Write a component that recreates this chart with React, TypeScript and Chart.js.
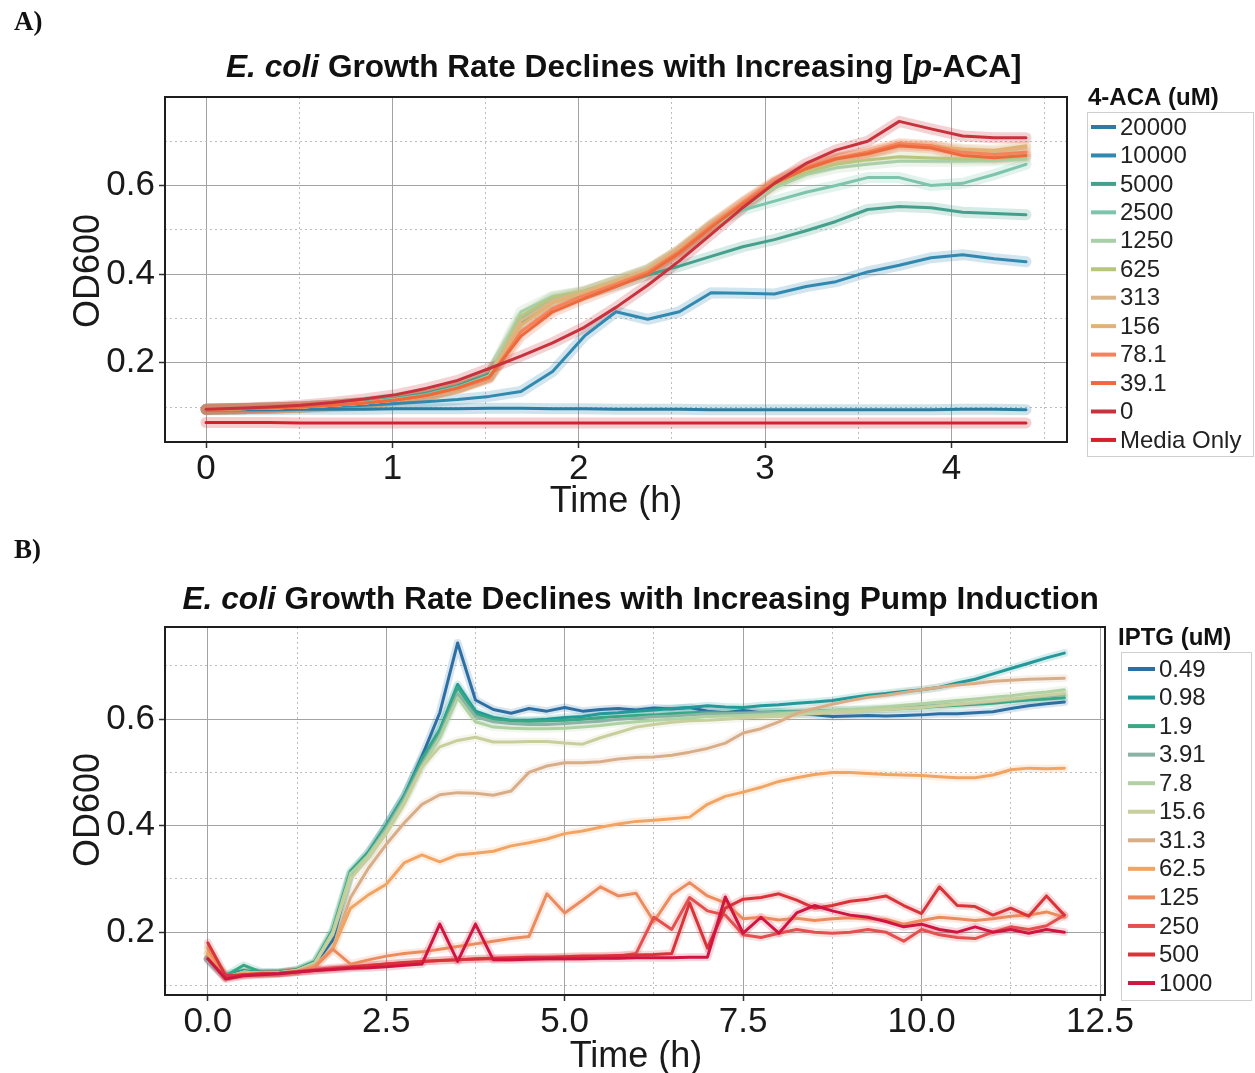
import React, { useEffect, useRef } from 'react';
import { Chart, registerables } from 'chart.js';

Chart.register(...registerables);

const FONT = '"Liberation Sans", Arial, Helvetica, sans-serif';

// ---------------- Panel A data ----------------
const timesA = [0, 0.17, 0.34, 0.51, 0.68, 0.85, 1.02, 1.18, 1.35, 1.52, 1.69, 1.86, 2.03, 2.2, 2.37, 2.54, 2.71, 2.88, 3.05, 3.22, 3.38, 3.55, 3.72, 3.89, 4.06, 4.23, 4.4];
const labelsA = ['20000', '10000', '5000', '2500', '1250', '625', '313', '156', '78.1', '39.1', '0', 'Media Only'];
const colorsA = ['#2b7ea1', '#3189b0', '#44a08c', '#7dc4ac', '#a8cfa9', '#b7c57f', '#dab58a', '#e1b274', '#f5825a', '#ec6a3c', '#c8323c', '#d6202b'];
const a20000 = [0.094, 0.094, 0.094, 0.095, 0.095, 0.095, 0.096, 0.096, 0.096, 0.097, 0.097, 0.096, 0.096, 0.095, 0.095, 0.095, 0.094, 0.094, 0.094, 0.094, 0.094, 0.094, 0.094, 0.094, 0.095, 0.095, 0.094];
const a10000 = [0.095, 0.096, 0.097, 0.099, 0.101, 0.104, 0.108, 0.112, 0.117, 0.124, 0.135, 0.18, 0.26, 0.315, 0.298, 0.315, 0.358, 0.357, 0.355, 0.372, 0.383, 0.405, 0.42, 0.437, 0.444, 0.435, 0.428];
const a5000 = [0.095, 0.096, 0.098, 0.101, 0.105, 0.111, 0.12, 0.131, 0.148, 0.175, 0.29, 0.34, 0.355, 0.375, 0.398, 0.418, 0.44, 0.462, 0.478, 0.498, 0.519, 0.546, 0.553, 0.55, 0.54, 0.537, 0.534];
const a2500 = [0.095, 0.096, 0.098, 0.1, 0.104, 0.11, 0.118, 0.128, 0.145, 0.17, 0.3, 0.345, 0.36, 0.385, 0.41, 0.45, 0.51, 0.545, 0.565, 0.585, 0.6, 0.618, 0.618, 0.6, 0.605, 0.625, 0.648];
const a1250 = [0.095, 0.096, 0.098, 0.1, 0.104, 0.109, 0.116, 0.126, 0.143, 0.17, 0.315, 0.35, 0.36, 0.382, 0.408, 0.452, 0.505, 0.55, 0.595, 0.625, 0.64, 0.648, 0.655, 0.655, 0.655, 0.656, 0.66];
const a625 = [0.095, 0.096, 0.098, 0.1, 0.104, 0.109, 0.116, 0.125, 0.142, 0.168, 0.305, 0.348, 0.362, 0.385, 0.41, 0.455, 0.508, 0.555, 0.6, 0.63, 0.648, 0.658, 0.665, 0.662, 0.66, 0.66, 0.665];
const a313 = [0.095, 0.096, 0.098, 0.1, 0.104, 0.109, 0.116, 0.125, 0.142, 0.167, 0.295, 0.34, 0.36, 0.385, 0.41, 0.455, 0.51, 0.56, 0.605, 0.638, 0.658, 0.672, 0.688, 0.688, 0.68, 0.676, 0.685];
const a156 = [0.095, 0.096, 0.098, 0.1, 0.104, 0.109, 0.116, 0.125, 0.142, 0.166, 0.285, 0.335, 0.358, 0.383, 0.408, 0.455, 0.512, 0.562, 0.608, 0.64, 0.66, 0.675, 0.692, 0.69, 0.682, 0.68, 0.69];
const a78 = [0.095, 0.096, 0.098, 0.1, 0.104, 0.109, 0.116, 0.125, 0.142, 0.165, 0.27, 0.322, 0.352, 0.378, 0.405, 0.452, 0.51, 0.562, 0.61, 0.642, 0.662, 0.676, 0.695, 0.69, 0.675, 0.67, 0.675];
const a39 = [0.095, 0.096, 0.098, 0.1, 0.104, 0.109, 0.116, 0.126, 0.143, 0.168, 0.26, 0.315, 0.345, 0.372, 0.4, 0.448, 0.505, 0.558, 0.605, 0.638, 0.66, 0.672, 0.69, 0.685, 0.668, 0.663, 0.668];
const a0 = [0.095, 0.097, 0.1, 0.104, 0.11, 0.118, 0.128, 0.142, 0.16, 0.187, 0.215, 0.245, 0.28, 0.325, 0.375, 0.43, 0.49, 0.55, 0.605, 0.65, 0.68, 0.7, 0.745, 0.728, 0.712, 0.708, 0.708];
const aMedia = [0.065, 0.065, 0.065, 0.064, 0.064, 0.064, 0.064, 0.064, 0.064, 0.064, 0.064, 0.064, 0.064, 0.064, 0.064, 0.064, 0.064, 0.064, 0.064, 0.064, 0.064, 0.064, 0.064, 0.064, 0.064, 0.064, 0.064];
const seriesA = [a20000, a10000, a5000, a2500, a1250, a625, a313, a156, a78, a39, a0, aMedia];
const xTicksA = [0, 0.5, 1, 1.5, 2, 2.5, 3, 3.5, 4, 4.5];
const xMajorA = [0, 1, 2, 3, 4];
const yTicksA = [0.1, 0.2, 0.3, 0.4, 0.5, 0.6, 0.7];
const yMajor = [0.2, 0.4, 0.6];

// ---------------- Panel B data ----------------
const timesB = [0, 0.25, 0.5, 0.75, 1, 1.25, 1.5, 1.75, 2, 2.25, 2.5, 2.75, 3, 3.25, 3.5, 3.75, 4, 4.25, 4.5, 4.75, 5, 5.25, 5.5, 5.75, 6, 6.25, 6.5, 6.75, 7, 7.25, 7.5, 7.75, 8, 8.25, 8.5, 8.75, 9, 9.25, 9.5, 9.75, 10, 10.25, 10.5, 10.75, 11, 11.25, 11.5, 11.75, 12];
const labelsB = ['0.49', '0.98', '1.9', '3.91', '7.8', '15.6', '31.3', '62.5', '125', '250', '500', '1000'];
const colorsB = ['#2d6fa3', '#23999a', '#36a884', '#8bb3a5', '#b0d2a2', '#c9cf9c', '#d8ae88', '#f2a462', '#ec8c5e', '#e4504f', '#d9343a', '#d01640'];
const b049 = [0.15, 0.115, 0.125, 0.124, 0.124, 0.128, 0.14, 0.185, 0.31, 0.35, 0.4, 0.455, 0.53, 0.612, 0.743, 0.636, 0.618, 0.611, 0.62, 0.615, 0.622, 0.615, 0.618, 0.62, 0.617, 0.621, 0.619, 0.622, 0.615, 0.612, 0.616, 0.612, 0.613, 0.61, 0.608, 0.605, 0.606, 0.607, 0.606, 0.607, 0.608, 0.61, 0.61, 0.612, 0.614, 0.62, 0.625, 0.629, 0.632];
const b098 = [0.15, 0.12, 0.128, 0.124, 0.124, 0.128, 0.142, 0.2, 0.31, 0.345, 0.4, 0.455, 0.525, 0.58, 0.665, 0.615, 0.603, 0.598, 0.598, 0.6, 0.603, 0.605, 0.61, 0.612, 0.615, 0.617, 0.62, 0.622, 0.625, 0.623, 0.622, 0.625, 0.627, 0.63, 0.632, 0.635, 0.64, 0.645, 0.648, 0.652, 0.655, 0.66, 0.668, 0.675, 0.685, 0.695, 0.705, 0.715, 0.724];
const b19 = [0.15, 0.118, 0.138, 0.125, 0.125, 0.13, 0.145, 0.205, 0.315, 0.35, 0.4, 0.455, 0.525, 0.578, 0.66, 0.61, 0.6, 0.597, 0.596, 0.597, 0.598, 0.6, 0.603, 0.605, 0.607, 0.608, 0.61, 0.612, 0.613, 0.612, 0.612, 0.613, 0.614, 0.615, 0.615, 0.616, 0.617, 0.618, 0.619, 0.62, 0.622, 0.624, 0.626, 0.628, 0.63, 0.633, 0.636, 0.638, 0.64];
const b391 = [0.145, 0.115, 0.125, 0.123, 0.124, 0.128, 0.142, 0.2, 0.305, 0.345, 0.395, 0.45, 0.515, 0.57, 0.648, 0.605, 0.595, 0.592, 0.59, 0.59, 0.592, 0.594, 0.596, 0.6, 0.602, 0.605, 0.606, 0.608, 0.61, 0.61, 0.611, 0.612, 0.613, 0.614, 0.615, 0.616, 0.617, 0.618, 0.62, 0.622, 0.624, 0.626, 0.628, 0.63, 0.633, 0.636, 0.64, 0.643, 0.646];
const b78 = [0.16, 0.115, 0.125, 0.123, 0.124, 0.128, 0.142, 0.2, 0.31, 0.345, 0.39, 0.445, 0.51, 0.565, 0.64, 0.595, 0.585, 0.583, 0.582, 0.582, 0.583, 0.585, 0.588, 0.592, 0.595, 0.598, 0.6, 0.602, 0.605, 0.606, 0.607, 0.608, 0.61, 0.612, 0.614, 0.616, 0.618, 0.62, 0.623, 0.626, 0.629, 0.632, 0.635, 0.638, 0.641, 0.644, 0.648, 0.651, 0.655];
const b156 = [0.17, 0.115, 0.125, 0.123, 0.124, 0.128, 0.142, 0.195, 0.3, 0.34, 0.385, 0.44, 0.51, 0.548, 0.56, 0.566, 0.557, 0.557, 0.558, 0.558, 0.555, 0.553, 0.565, 0.575, 0.585, 0.59, 0.594, 0.597, 0.598, 0.6, 0.602, 0.604, 0.605, 0.608, 0.61, 0.612, 0.614, 0.616, 0.618, 0.62, 0.622, 0.625, 0.628, 0.631, 0.634, 0.638, 0.641, 0.645, 0.648];
const b313 = [0.16, 0.115, 0.124, 0.123, 0.124, 0.127, 0.138, 0.17, 0.265, 0.32, 0.365, 0.405, 0.44, 0.458, 0.462, 0.461, 0.457, 0.465, 0.5, 0.512, 0.518, 0.518, 0.52, 0.525, 0.528, 0.529, 0.532, 0.538, 0.545, 0.555, 0.574, 0.582, 0.595, 0.611, 0.62, 0.628, 0.635, 0.641, 0.645, 0.65, 0.655, 0.66, 0.664, 0.667, 0.671, 0.673, 0.675, 0.676, 0.677];
const b625 = [0.16, 0.115, 0.123, 0.122, 0.123, 0.126, 0.135, 0.168, 0.245, 0.27, 0.29, 0.33, 0.345, 0.332, 0.345, 0.348, 0.352, 0.362, 0.368, 0.375, 0.385, 0.39, 0.397, 0.403, 0.408, 0.41, 0.413, 0.416, 0.44, 0.455, 0.463, 0.472, 0.483, 0.49, 0.496, 0.5, 0.5, 0.498, 0.496, 0.495, 0.494, 0.492, 0.49, 0.49, 0.495, 0.505, 0.508, 0.507, 0.508];
const b125 = [0.17, 0.115, 0.12, 0.122, 0.123, 0.126, 0.135, 0.168, 0.14, 0.148, 0.155, 0.16, 0.163, 0.168, 0.173, 0.178, 0.183, 0.188, 0.192, 0.272, 0.236, 0.26, 0.285, 0.268, 0.273, 0.22, 0.27, 0.293, 0.268, 0.255, 0.225, 0.228, 0.223, 0.226, 0.222, 0.225, 0.227, 0.225, 0.224, 0.215, 0.222, 0.228, 0.225, 0.222, 0.225, 0.23, 0.232, 0.238, 0.228];
const b250 = [0.15, 0.115, 0.12, 0.122, 0.123, 0.126, 0.13, 0.133, 0.135, 0.138, 0.14, 0.142, 0.145, 0.147, 0.148, 0.149, 0.15, 0.151, 0.152, 0.152, 0.153, 0.153, 0.154, 0.155, 0.16, 0.228, 0.205, 0.265, 0.24, 0.232, 0.195, 0.19, 0.198, 0.205, 0.2, 0.198, 0.2, 0.205, 0.2, 0.183, 0.205, 0.195, 0.19, 0.188, 0.2, 0.21, 0.205, 0.212, 0.232];
const b500 = [0.18, 0.118, 0.12, 0.122, 0.123, 0.125, 0.128, 0.131, 0.134, 0.137, 0.14, 0.143, 0.145, 0.147, 0.148, 0.15, 0.151, 0.152, 0.153, 0.153, 0.154, 0.155, 0.155, 0.156, 0.157, 0.158, 0.16, 0.255, 0.17, 0.245, 0.262, 0.265, 0.272, 0.26, 0.245, 0.25, 0.258, 0.262, 0.268, 0.25, 0.235, 0.285, 0.25, 0.248, 0.232, 0.245, 0.23, 0.268, 0.232];
const b1000 = [0.15, 0.112, 0.118, 0.12, 0.122, 0.125, 0.128, 0.13, 0.132, 0.133, 0.135, 0.138, 0.14, 0.215, 0.145, 0.215, 0.148, 0.148, 0.149, 0.15, 0.15, 0.15, 0.151, 0.151, 0.152, 0.152, 0.152, 0.153, 0.153, 0.266, 0.198, 0.228, 0.198, 0.236, 0.25, 0.24, 0.232, 0.228, 0.22, 0.21, 0.215, 0.205, 0.2, 0.21, 0.2, 0.205, 0.198, 0.205, 0.2];
const seriesB = [b049, b098, b19, b391, b78, b156, b313, b625, b125, b250, b500, b1000];
const xTicksB = [0, 1.25, 2.5, 3.75, 5, 6.25, 7.5, 8.75, 10, 11.25, 12.5];
const xMajorB = [0, 2.5, 5, 7.5, 10, 12.5];
const yTicksB = [0.1, 0.2, 0.3, 0.4, 0.5, 0.6, 0.7];

function rgba(hex: string, a: number) {
  const n = parseInt(hex.slice(1), 16);
  return `rgba(${(n >> 16) & 255},${(n >> 8) & 255},${n & 255},${a})`;
}

function buildDatasets(times: number[], series: number[][], colors: string[], lw: number, haloW: number, haloA: number) {
  const ds: any[] = [];
  series.forEach((vals, i) => {
    const data = vals.map((v, k) => ({ x: times[k], y: v }));
    ds.push({
      data, borderColor: rgba(colors[i], haloA), borderWidth: haloW, pointRadius: 0,
      order: 200 - i, borderJoinStyle: 'round', borderCapStyle: 'round', tension: 0,
    });
    ds.push({
      data, borderColor: colors[i], borderWidth: lw, pointRadius: 0,
      order: 100 - i, borderJoinStyle: 'round', borderCapStyle: 'round', tension: 0,
    });
  });
  return ds;
}

function near(list: number[], v: number) {
  return list.some((m) => Math.abs(m - v) < 1e-6);
}

type Deco = {
  panel: string; panelY: number;
  titleParts: [string, boolean][]; titleCx: number; titleY: number; titleW: number;
  yTitleX: number; yTitleY: number; xTitleX: number; xTitleY: number;
  legTitle: string; legTitleX: number; legTitleY: number;
  legBox: [number, number, number, number];
  legLineX0: number; legLineX1: number; legTextX: number; legY0: number; legDy: number;
  labels: string[]; colors: string[];
};

function makeDecor(d: Deco) {
  return {
    id: 'decor',
    beforeDraw(chart: any) {
      const ctx = chart.ctx;
      ctx.save();
      ctx.fillStyle = '#ffffff';
      ctx.fillRect(0, 0, chart.width, chart.height);
      ctx.restore();
    },
    afterDraw(chart: any) {
      const ctx = chart.ctx as CanvasRenderingContext2D;
      const ca = chart.chartArea;
      ctx.save();
      // frame
      ctx.strokeStyle = '#1e1e1e';
      ctx.lineWidth = 2;
      ctx.strokeRect(ca.left, ca.top, ca.right - ca.left, ca.bottom - ca.top);
      // panel label
      ctx.fillStyle = '#111';
      ctx.textBaseline = 'middle';
      ctx.textAlign = 'left';
      ctx.font = 'bold 27px "Liberation Serif", "Times New Roman", serif';
      ctx.fillText(d.panel, 14, d.panelY);
      // title with mixed italic
      const fontFor = (it: boolean, s: number) => `${it ? 'italic ' : ''}bold ${s}px ${FONT}`;
      let w100 = 0;
      d.titleParts.forEach(([t, it]) => { ctx.font = fontFor(it, 100); w100 += ctx.measureText(t).width; });
      const size = (100 * d.titleW) / w100;
      let x = d.titleCx - d.titleW / 2;
      ctx.fillStyle = '#111';
      d.titleParts.forEach(([t, it]) => {
        ctx.font = fontFor(it, size);
        ctx.fillText(t, x, d.titleY);
        x += ctx.measureText(t).width;
      });
      // axis titles
      ctx.font = `36px ${FONT}`;
      ctx.fillStyle = '#1a1a1a';
      ctx.textAlign = 'center';
      ctx.fillText('Time (h)', d.xTitleX, d.xTitleY);
      ctx.save();
      ctx.translate(d.yTitleX, d.yTitleY);
      ctx.rotate(-Math.PI / 2);
      ctx.fillText('OD600', 0, 0);
      ctx.restore();
      // legend
      ctx.textAlign = 'left';
      ctx.font = `bold 24px ${FONT}`;
      ctx.fillStyle = '#111';
      ctx.fillText(d.legTitle, d.legTitleX, d.legTitleY);
      const [bx, by, bw, bh] = d.legBox;
      ctx.strokeStyle = '#cfcfcf';
      ctx.lineWidth = 1;
      ctx.strokeRect(bx + 0.5, by + 0.5, bw, bh);
      ctx.font = `24px ${FONT}`;
      d.labels.forEach((lab, i) => {
        const y = d.legY0 + i * d.legDy;
        ctx.strokeStyle = d.colors[i];
        ctx.lineWidth = 4;
        ctx.beginPath();
        ctx.moveTo(d.legLineX0, y);
        ctx.lineTo(d.legLineX1, y);
        ctx.stroke();
        ctx.fillStyle = '#222';
        ctx.fillText(lab, d.legTextX, y + 1);
      });
      ctx.restore();
    },
  };
}

type ScaleP = {
  xMin: number; xMax: number; yMin: number; yMax: number;
  xTicks: number[]; xMajor: number[]; yTicks: number[]; yMajor: number[];
  xFmt: (v: number) => string; xH: number; yW: number;
};

function makeScales(p: ScaleP) {
  const gridColor = (major: boolean) => (major ? '#a3a3a3' : '#bdbdbd');
  const tickFont = { family: FONT, size: 35 };
  return {
    x: {
      type: 'linear', min: p.xMin, max: p.xMax,
      afterBuildTicks: (ax: any) => { ax.ticks = p.xTicks.map((v) => ({ value: v })); },
      afterFit: (s: any) => { s.height = p.xH; },
      ticks: {
        autoSkip: false, maxRotation: 0, minRotation: 0, padding: 0, font: tickFont, color: '#1a1a1a',
        callback: (v: any) => (near(p.xMajor, Number(v)) ? p.xFmt(Number(v)) : ''),
      },
      grid: {
        lineWidth: 1, tickLength: 6, tickWidth: 1.5,
        color: (c: any) => gridColor(!!c.tick && near(p.xMajor, c.tick.value)),
        tickColor: (c: any) => (c.tick && near(p.xMajor, c.tick.value) ? '#333' : 'rgba(0,0,0,0)'),
      },
      border: { display: false, dash: (c: any) => (c.tick && !near(p.xMajor, c.tick.value) ? [2, 3] : []) },
    },
    y: {
      type: 'linear', min: p.yMin, max: p.yMax,
      afterBuildTicks: (ax: any) => { ax.ticks = p.yTicks.map((v) => ({ value: v })); },
      afterFit: (s: any) => { s.width = p.yW; },
      ticks: {
        autoSkip: false, padding: 4, font: tickFont, color: '#1a1a1a',
        callback: (v: any) => (near(p.yMajor, Number(v)) ? Number(v).toFixed(1) : ''),
      },
      grid: {
        lineWidth: 1, tickLength: 6, tickWidth: 1.5,
        color: (c: any) => gridColor(!!c.tick && near(p.yMajor, c.tick.value)),
        tickColor: (c: any) => (c.tick && near(p.yMajor, c.tick.value) ? '#333' : 'rgba(0,0,0,0)'),
      },
      border: { display: false, dash: (c: any) => (c.tick && !near(p.yMajor, c.tick.value) ? [2, 3] : []) },
    },
  };
}

function configA(): any {
  return {
    type: 'line',
    data: { datasets: buildDatasets(timesA, seriesA, colorsA, 3, 11, 0.22) },
    options: {
      animation: false, responsive: false,
      layout: { padding: { left: 0, top: 97, right: 188, bottom: 0 } },
      plugins: { legend: { display: false }, tooltip: { enabled: false }, title: { display: false } },
      scales: makeScales({
        xMin: -0.22, xMax: 4.62, yMin: 0.021, yMax: 0.8,
        xTicks: xTicksA, xMajor: xMajorA, yTicks: yTicksA, yMajor: yMajor,
        xFmt: (v) => String(v), xH: 88, yW: 165,
      }),
    },
    plugins: [makeDecor({
      panel: 'A)', panelY: 23,
      titleParts: [['E. coli', true], [' Growth Rate Declines with Increasing [', false], ['p', true], ['-ACA]', false]],
      titleCx: 624, titleY: 68, titleW: 796,
      yTitleX: 89, yTitleY: 271, xTitleX: 616, xTitleY: 502,
      legTitle: '4-ACA (uM)', legTitleX: 1088, legTitleY: 98,
      legBox: [1087, 112, 166, 344],
      legLineX0: 1091, legLineX1: 1116, legTextX: 1120, legY0: 127, legDy: 28.45,
      labels: labelsA, colors: colorsA,
    })],
  };
}

function configB(): any {
  return {
    type: 'line',
    data: { datasets: buildDatasets(timesB, seriesB, colorsB, 3, 8, 0.18) },
    options: {
      animation: false, responsive: false,
      layout: { padding: { left: 0, top: 97, right: 150, bottom: 0 } },
      plugins: { legend: { display: false }, tooltip: { enabled: false }, title: { display: false } },
      scales: makeScales({
        xMin: -0.6, xMax: 12.57, yMin: 0.082, yMax: 0.773,
        xTicks: xTicksB, xMajor: xMajorB, yTicks: yTicksB, yMajor: yMajor,
        xFmt: (v) => v.toFixed(1), xH: 78, yW: 165,
      }),
    },
    plugins: [makeDecor({
      panel: 'B)', panelY: 21,
      titleParts: [['E. coli', true], [' Growth Rate Declines with Increasing Pump Induction', false]],
      titleCx: 641, titleY: 70, titleW: 917,
      yTitleX: 89, yTitleY: 280, xTitleX: 636, xTitleY: 527,
      legTitle: 'IPTG (uM)', legTitleX: 1118, legTitleY: 108,
      legBox: [1121, 122, 130, 348],
      legLineX0: 1128, legLineX1: 1155, legTextX: 1159, legY0: 139, legDy: 28.55,
      labels: labelsB, colors: colorsB,
    })],
  };
}

export default function App() {
  const refA = useRef<HTMLCanvasElement>(null);
  const refB = useRef<HTMLCanvasElement>(null);
  useEffect(() => {
    document.body.style.margin = '0';
    Chart.defaults.font.family = FONT;
    const ca = new Chart(refA.current as HTMLCanvasElement, configA());
    const cb = new Chart(refB.current as HTMLCanvasElement, configB());
    return () => { ca.destroy(); cb.destroy(); };
  }, []);
  return (
    <div style={{ position: 'relative', width: 1255, height: 1073, background: '#fff', overflow: 'hidden' }}>
      <canvas ref={refA} width={1255} height={530} style={{ position: 'absolute', left: 0, top: 0 }} />
      <canvas ref={refB} width={1255} height={543} style={{ position: 'absolute', left: 0, top: 530 }} />
    </div>
  );
}
